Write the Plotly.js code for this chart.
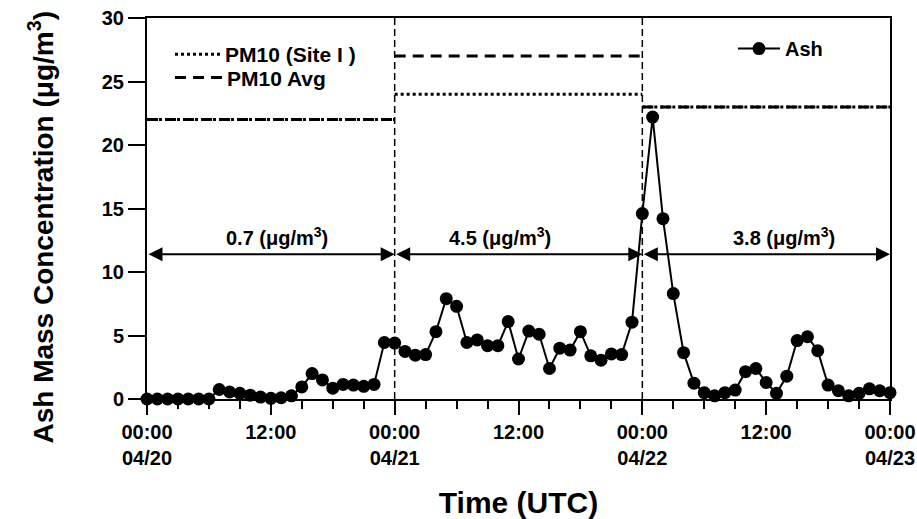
<!DOCTYPE html>
<html><head><meta charset="utf-8">
<script src="https://cdn.plot.ly/plotly-3.0.1.min.js"></script>
<style>html,body{margin:0;padding:0;background:#fff}</style>
</head><body><div id="chart" style="width:917px;height:519px"></div>
<script>
// ---- data ----
const hours = [0,1,2,3,4,5,6,7,8,9,10,11,12,13,14,15,16,17,18,19,20,21,22,23,24,
  25,26,27,28,29,30,31,32,33,34,35,36,37,38,39,40,41,42,43,44,45,46,47,48,
  49,50,51,52,53,54,55,56,57,58,59,60,61,62,63,64,65,66,67,68,69,70,71,72];
const ashValues = [0,0,0,0,0,0,0,0.75,0.55,0.45,0.3,0.15,0.05,0.1,0.25,0.95,2.0,1.5,0.85,1.15,1.1,1.0,1.15,4.45,4.4,
  3.75,3.45,3.5,5.3,7.9,7.3,4.45,4.65,4.2,4.2,6.1,3.15,5.35,5.1,2.4,4.0,3.85,5.3,3.4,3.05,3.55,3.5,6.05,14.6,
  22.2,14.2,8.3,3.65,1.25,0.5,0.25,0.5,0.7,2.15,2.4,1.3,0.45,1.8,4.6,4.9,3.8,1.1,0.65,0.25,0.45,0.8,0.65,0.5];
const pm10Hours = [0,24,24,24,48,48,48,72];
const pm10SiteValues = [22,22,null,24,24,null,23,23];
const pm10AvgValues  = [22,22,null,27,27,null,23,23];
const dayBoundaries = [24,48];
const periodStart = [0,24,48];
const periodEnd = [24,48,72];
const periodMeans = ['0.7','4.5','3.8'];
const periodLabelX = [12.6,34.2,61.7];
const arrowLevel = 11.4;
const xTickVals = [0,12,24,36,48,60,72];
const xTickText = ['00:00<br>04/20','12:00','00:00<br>04/21','12:00','00:00<br>04/22','12:00','00:00<br>04/23'];
const yTickVals = [0,5,10,15,20,25,30];

// ---- chart ----
const F = 'Liberation Sans, Arial, Helvetica, sans-serif';
const bold = (s) => ({family: F, size: s, color: '#000', weight: 'bold'});

const traces = [
  {x: pm10Hours, y: pm10SiteValues, name: 'PM10 (Site I )', mode: 'lines', connectgaps: false,
   line: {color: '#000', width: 3, dash: '3px,3px'}, legend: 'legend', hoverinfo: 'skip'},
  {x: pm10Hours, y: pm10AvgValues, name: 'PM10 Avg', mode: 'lines', connectgaps: false,
   line: {color: '#000', width: 3, dash: '11px,7px'}, legend: 'legend3', hoverinfo: 'skip'},
  {x: hours, y: ashValues, name: 'Ash', mode: 'lines+markers', cliponaxis: false,
   line: {color: '#000', width: 2}, marker: {color: '#000', size: 13}, legend: 'legend2'}
];

const shapes = dayBoundaries.map(b => ({type: 'line', xref: 'x', yref: 'y', x0: b, x1: b, y0: 0, y1: 30,
  line: {color: '#000', width: 1.5, dash: '7px,4px'}}));

const annotations = [];
periodStart.forEach((s, i) => {
  annotations.push({xref: 'x', yref: 'y', axref: 'x', ayref: 'y', x: periodEnd[i], y: arrowLevel,
    ax: s, ay: arrowLevel, text: '', showarrow: true, arrowhead: 2, startarrowhead: 2,
    arrowside: 'end+start', arrowsize: 1.4, startarrowsize: 1.4, arrowwidth: 2, arrowcolor: '#000'});
  annotations.push({xref: 'x', yref: 'y', x: periodLabelX[i], y: arrowLevel, yanchor: 'bottom', yshift: 3,
    text: periodMeans[i] + ' (μg/m<sup>3</sup>)', showarrow: false, font: bold(20)});
});
annotations.push({xref: 'paper', yref: 'paper', x: 0, y: 0.45, xshift: -106, xanchor: 'center', yanchor: 'middle',
  textangle: -90, showarrow: false, text: 'Ash Mass Concentration (μg/m<sup>3</sup>)', font: bold(28)});

const legBase = {xanchor: 'left', yanchor: 'top', bgcolor: 'rgba(0,0,0,0)', borderwidth: 0};
const layout = {
  width: 917, height: 519,
  margin: {l: 147, r: 27, t: 18, b: 120},
  paper_bgcolor: '#fff', plot_bgcolor: '#fff',
  font: bold(20),
  showlegend: true,
  xaxis: {range: [0, 72], tickvals: xTickVals, ticktext: xTickText, ticks: 'outside', ticklen: 14,
    tickwidth: 2, tickcolor: '#000', showline: true, linewidth: 2, linecolor: '#000', mirror: true,
    showgrid: false, zeroline: false, tickfont: bold(20),
    minor: {dtick: 3, tick0: 0, ticks: 'outside', ticklen: 8, tickwidth: 2, tickcolor: '#000', showgrid: false},
    title: {text: 'Time (UTC)', font: bold(30), standoff: 25}},
  yaxis: {range: [0, 30], tickvals: yTickVals, ticks: 'outside', ticklen: 17, tickwidth: 2, tickcolor: '#000',
    showline: true, linewidth: 2, linecolor: '#000', mirror: true, showgrid: false, zeroline: false,
    tickfont: bold(20)},
  legend: Object.assign({x: (170 - 147) / 743, y: 0.958, font: bold(21), itemwidth: 45}, legBase),
  legend3: Object.assign({x: (170 - 147) / 743, y: 0.897, font: bold(21), itemwidth: 47}, legBase),
  legend2: Object.assign({x: (733 - 147) / 743, y: 0.971, font: bold(20), itemwidth: 42}, legBase),
  shapes: shapes,
  annotations: annotations
};

Plotly.newPlot('chart', traces, layout, {displayModeBar: false, staticPlot: true});
</script></body></html>
